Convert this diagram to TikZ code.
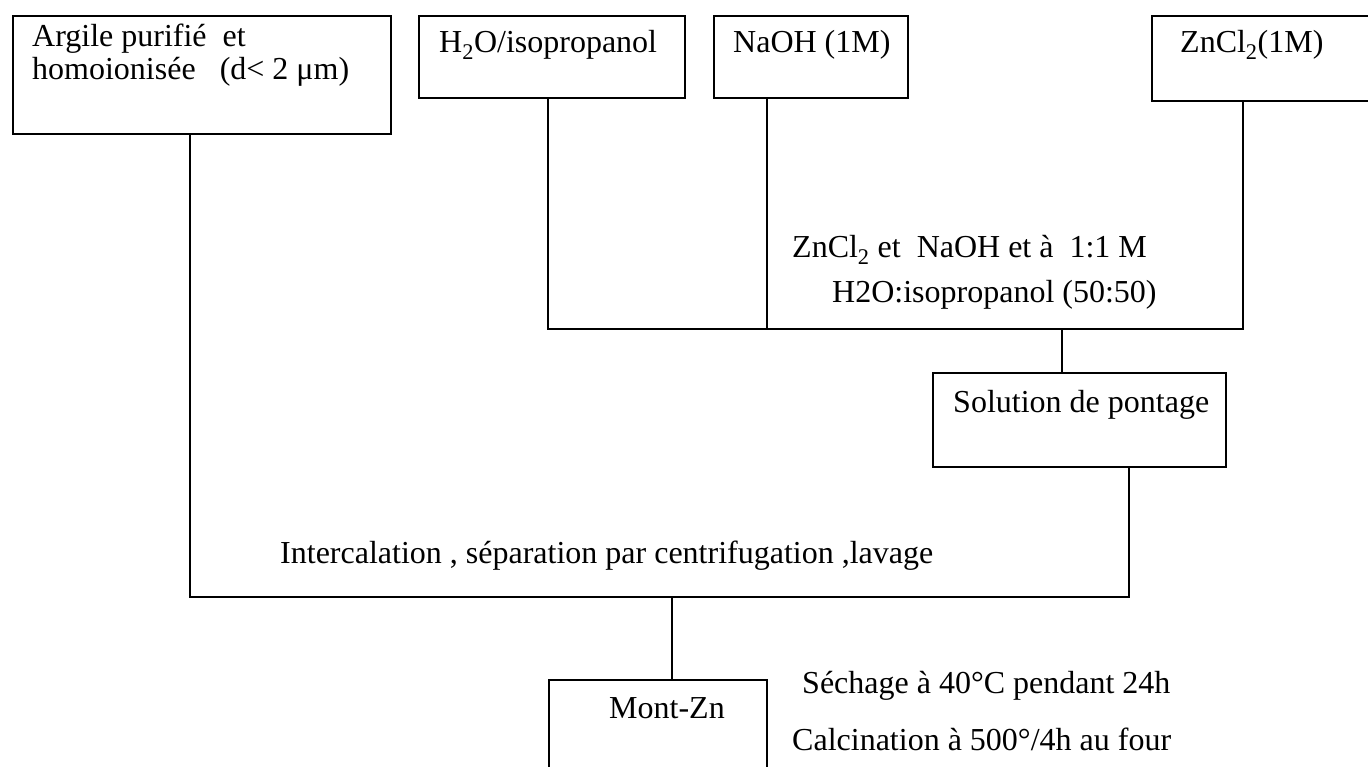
\documentclass[tikz,border=0pt]{standalone}
\usepackage{fontspec}
\setmainfont{Liberation Serif}
\begin{document}
\begin{tikzpicture}[x=1pt,y=-1pt,
  box/.style={draw,line width=1.6pt,inner sep=0pt,anchor=north west},
  wire/.style={line width=1.6pt},
  txt/.style={anchor=base west,inner sep=0pt,font=\fontsize{32}{38}\selectfont}]
\useasboundingbox (0,0) rectangle (1368,767);
\clip (0,0) rectangle (1368,767);
% boxes
\node[box,minimum width=378pt,minimum height=118pt] (argile) at (12,15) {};
\node[box,minimum width=266pt,minimum height=82pt] (h2o) at (418,15) {};
\node[box,minimum width=194pt,minimum height=82pt] (naoh) at (713,15) {};
\node[box,minimum width=240pt,minimum height=85pt] (zncl) at (1151,15) {};
\node[box,minimum width=293pt,minimum height=94pt] (sol) at (932,372) {};
\node[box,minimum width=218pt,minimum height=130pt] (mont) at (548,679) {};
% texts in boxes
\node[txt] (t1) at (32,47) {Argile purifié\ \ et};
\node[txt] (t2) at (32,80) {homoionisée\ \ \ (d< 2 μm)};
\node[txt] (t3) at (439,53) {H\textsubscript{2}O/isopropanol};
\node[txt] (t4) at (733,53) {NaOH (1M)};
\node[txt] (t5) at (1180,53) {ZnCl\textsubscript{2}(1M)};
\node[txt] (t6) at (953,412) {Solution de pontage};
\node[txt] (t7) at (609,718) {Mont-Zn};
% free texts
\node[txt] (c1) at (792,258) {ZnCl\textsubscript{2} et\ \ NaOH et à\ \ 1:1 M};
\node[txt] (c2) at (832,302) {H2O:isopropanol (50:50)};
\node[txt] (c3) at (280,563) {Intercalation , séparation par centrifugation ,lavage};
\node[txt] (c4) at (802,693) {Séchage à 40°C pendant 24h};
\node[txt] (c5) at (792,750) {Calcination à 500°/4h au four};
% junctions
\coordinate (j1) at (548,329);
\coordinate (j2) at (1243,329);
\coordinate (j3) at (1062,329);
\coordinate (j4) at (767,329);
\coordinate (k1) at (190,597);
\coordinate (k2) at (1129,597);
\coordinate (k3) at (672,597);
% connectors
\draw[wire] (h2o.south -| j1) -- (j1) -- (j2) -- (zncl.south -| j2);
\draw[wire] (naoh.south -| j4) -- (j4);
\draw[wire] (j3) -- (sol.north -| j3);
\draw[wire] (argile.south -| k1) -- (k1) -- (k2) -- (sol.south -| k2);
\draw[wire] (k3) -- (mont.north -| k3);
\end{tikzpicture}
\end{document}
